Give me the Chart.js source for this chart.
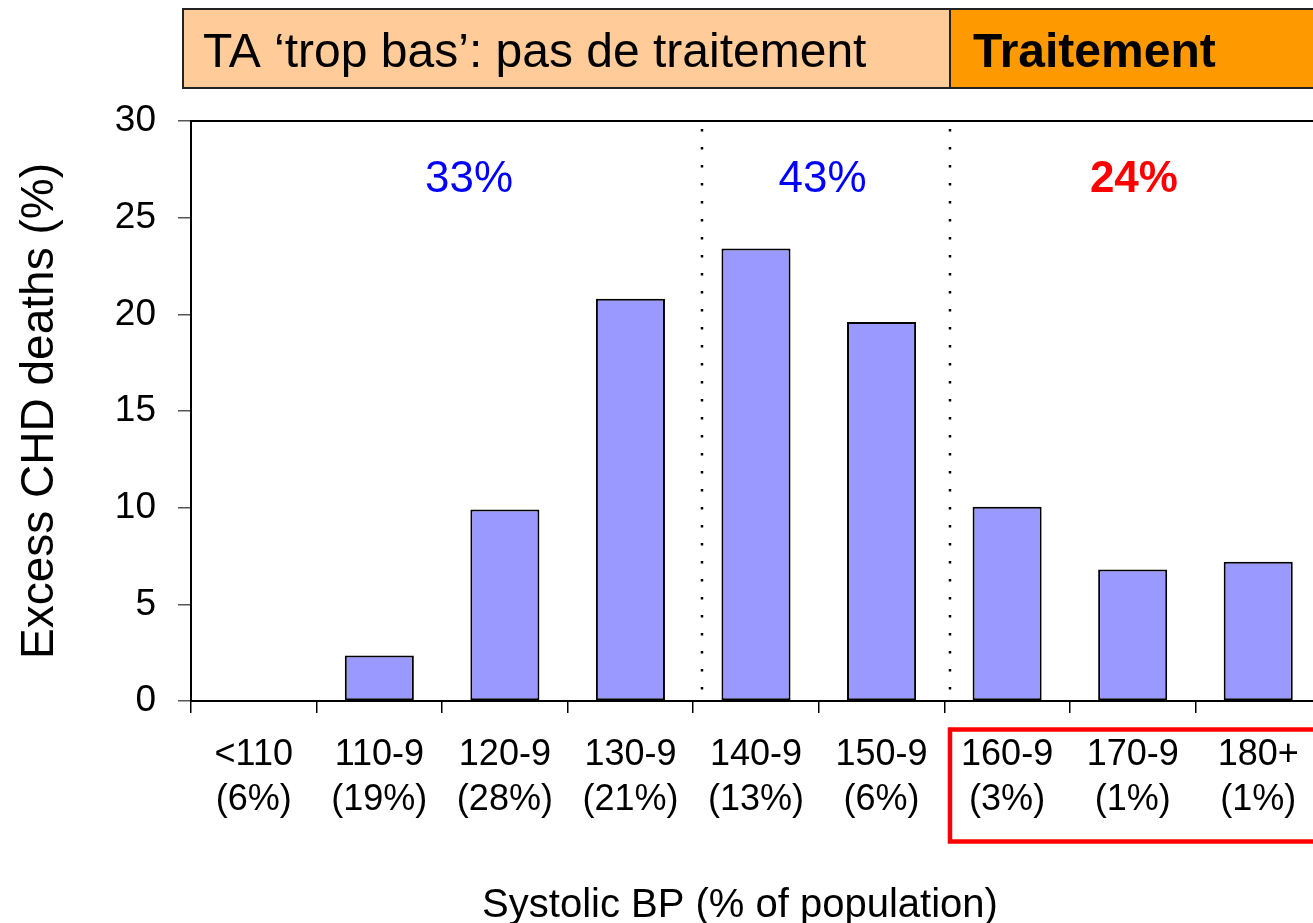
<!DOCTYPE html>
<html>
<head>
<title>Excess CHD deaths by systolic BP</title>
<script src="https://cdn.jsdelivr.net/npm/chart.js"></script>
<style>
	html, body {
		margin: 0;
		padding: 0;
		overflow: hidden;
		background: #fff;
	}
	.chart-box {
		position: relative;
		width: 1330px;
		height: 923px;
	}
</style>
</head>
<body>
<div class="chart-box"><canvas id="bpChart"></canvas></div>
<script>
	// data
	var bpRanges = ['<110', '110-9', '120-9', '130-9', '140-9', '150-9', '160-9', '170-9', '180+'];
	var popShare = ['(6%)', '(19%)', '(28%)', '(21%)', '(13%)', '(6%)', '(3%)', '(1%)', '(1%)'];
	var excessDeaths = [0, 2.35, 9.9, 20.8, 23.4, 19.6, 10.05, 6.8, 7.2];
	var bandShares = ['33%', '43%', '24%'];
	var headerLabels = ['TA \u2018trop bas\u2019: pas de traitement', 'Traitement'];
	var yTitle = 'Excess CHD deaths (%)';
	var xTitle = 'Systolic BP (% of population)';

	var FONT = '"Liberation Sans", Arial, sans-serif';

	var labels = bpRanges.map(function (r, i) { return [r, popShare[i]]; });

	// dotted separators, band labels, header and x title, placed on the category scale
	var overlay = {
		id: 'overlay',
		afterDraw: function (chart) {
			var ctx = chart.ctx;
			var area = chart.chartArea;
			var xs = chart.scales.x;
			var split = xs.getPixelForValue(5.545);

			ctx.save();

			// top frame line of the plot
			ctx.strokeStyle = '#000';
			ctx.lineWidth = 2;
			ctx.beginPath();
			ctx.moveTo(area.left, area.top);
			ctx.lineTo(chart.width, area.top);
			ctx.stroke();

			// dotted separators
			ctx.setLineDash([2.5, 15.5]);
			ctx.lineWidth = 2.5;
			[3.568, 5.545].forEach(function (v) {
				var px = Math.round(xs.getPixelForValue(v));
				ctx.beginPath();
				ctx.moveTo(px, area.top + 8);
				ctx.lineTo(px, area.bottom - 10);
				ctx.stroke();
			});
			ctx.setLineDash([]);

			// share of deaths per band
			ctx.textAlign = 'center';
			ctx.textBaseline = 'alphabetic';
			var bandPos = [1.714, 4.53, 7.01];
			bandShares.forEach(function (t, i) {
				var last = i === bandShares.length - 1;
				ctx.fillStyle = last ? '#ff0000' : '#0000ff';
				ctx.font = (last ? 'bold ' : '') + '44px ' + FONT;
				ctx.fillText(t, xs.getPixelForValue(bandPos[i]), 192);
			});

			// x axis title
			ctx.fillStyle = '#000';
			ctx.font = '40px ' + FONT;
			ctx.fillText(xTitle, 740, 917);

			// header box
			ctx.fillStyle = '#ffcc99';
			ctx.fillRect(183, 9, split - 183, 79);
			ctx.fillStyle = '#ff9900';
			ctx.fillRect(split, 9, chart.width - split, 79);
			ctx.strokeStyle = '#222';
			ctx.lineWidth = 2;
			ctx.strokeRect(183, 9, chart.width + 10 - 183, 79);
			ctx.beginPath();
			ctx.moveTo(split, 9);
			ctx.lineTo(split, 88);
			ctx.stroke();

			ctx.fillStyle = '#000';
			ctx.textAlign = 'left';
			ctx.font = '48px ' + FONT;
			ctx.fillText(headerLabels[0], 203, 67);
			ctx.font = 'bold 48px ' + FONT;
			ctx.fillText(headerLabels[1], split + 23, 67);

			// red frame round the treated groups
			ctx.strokeStyle = '#ff0000';
			ctx.lineWidth = 4.5;
			ctx.strokeRect(split, 729.5, chart.width + 20 - split, 112);

			ctx.restore();
		}
	};

	var ctx1 = document.getElementById('bpChart').getContext('2d');
	var chart1 = new Chart(ctx1, {
		type: 'bar',
		data: {
			labels: labels,
			datasets: [{
				data: excessDeaths,
				backgroundColor: '#9999ff',
				borderColor: '#000',
				borderWidth: 2,
				borderSkipped: false,
				barPercentage: 0.55,
				categoryPercentage: 1
			}]
		},
		options: {
			responsive: true,
			maintainAspectRatio: false,
			animation: false,
			layout: {
				padding: { top: 121, right: 9, left: 0, bottom: 0 }
			},
			plugins: {
				legend: { display: false },
				tooltip: { enabled: false }
			},
			scales: {
				x: {
					offset: true,
					afterFit: function (scale) { scale.height = 222; },
					border: { color: '#000', width: 2 },
					grid: {
						offset: true,
						drawOnChartArea: false,
						tickLength: 12,
						color: '#000',
						lineWidth: 1.5
					},
					ticks: {
						autoSkip: false,
						maxRotation: 0,
						minRotation: 0,
						padding: 19,
						color: '#000',
						font: { family: FONT, size: 36, lineHeight: 1.26 }
					}
				},
				y: {
					min: 0,
					max: 30,
					afterFit: function (scale) { scale.width = 191; },
					border: { color: '#000', width: 2 },
					grid: {
						drawOnChartArea: false,
						tickLength: 13,
						color: '#555',
						lineWidth: 1.5
					},
					ticks: {
						stepSize: 5,
						padding: 22,
						color: '#000',
						font: { family: FONT, size: 37 }
					},
					title: {
						display: true,
						text: yTitle,
						color: '#000',
						padding: { top: 17, bottom: 0 },
						font: { family: FONT, size: 46, lineHeight: 1 }
					}
				}
			}
		},
		plugins: [overlay]
	});
</script>
</body>
</html>
